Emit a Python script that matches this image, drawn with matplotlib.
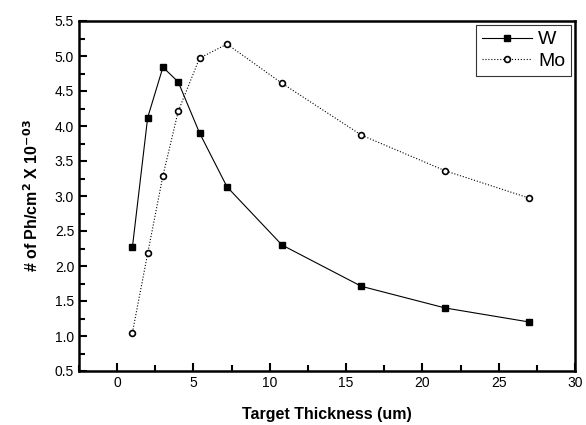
import numpy as np
import matplotlib.pyplot as plt
from matplotlib.ticker import MultipleLocator

plt.rcParams['font.family'] = ['Liberation Sans', 'DejaVu Sans']

# data
thickness = [1, 2, 3, 4, 5.4, 7.2, 10.8, 16, 21.5, 27]
w_vals = [2.27, 4.12, 4.84, 4.63, 3.90, 3.13, 2.30, 1.71, 1.40, 1.20]
mo_vals = [1.05, 2.18, 3.29, 4.21, 4.97, 5.17, 4.61, 3.87, 3.36, 2.97]

fig = plt.figure(figsize=(5.86, 4.25), dpi=100)
ax = fig.add_axes([79 / 586, 1 - 371 / 425, 496 / 586, 350 / 425])

ax.plot(thickness, w_vals, color='black', lw=0.8, marker='s', ms=5,
        mfc='black', mec='black', label='W')
ax.plot(thickness, mo_vals, color='black', lw=0.8, ls=':', marker='o', ms=4.2,
        mfc='white', mec='black', mew=1.2, label='Mo')

ax.set_xlim(-2.5, 30)
ax.set_ylim(0.5, 5.5)
ax.xaxis.set_major_locator(MultipleLocator(5))
ax.xaxis.set_minor_locator(MultipleLocator(2.5))
ax.yaxis.set_major_locator(MultipleLocator(0.5))
ax.yaxis.set_minor_locator(MultipleLocator(0.25))
ax.tick_params(which='both', direction='in', labelsize=10, width=1.5)
ax.tick_params(which='major', length=6)
ax.tick_params(which='minor', length=4)
ax.set_yticklabels([f'{v:.1f}' for v in ax.get_yticks()])

for sp in ax.spines.values():
    sp.set_linewidth(1.8)

ax.set_xlabel('Target Thickness (um)', fontsize=11.5, fontweight='bold', labelpad=12)
ax.set_ylabel('# of Ph/cm$^\\mathbf{2}$ X 10$^{\\mathbf{-03}}$', fontsize=11.5,
              fontweight='bold', labelpad=10)

leg = ax.legend(loc='upper right', fontsize=14, frameon=True, fancybox=False,
                edgecolor='black', handlelength=2.6, borderaxespad=0.2,
                borderpad=0.3, labelspacing=0.2, handletextpad=0.3)
leg.get_frame().set_linewidth(0.8)

fig.savefig('out.png', dpi=100)
